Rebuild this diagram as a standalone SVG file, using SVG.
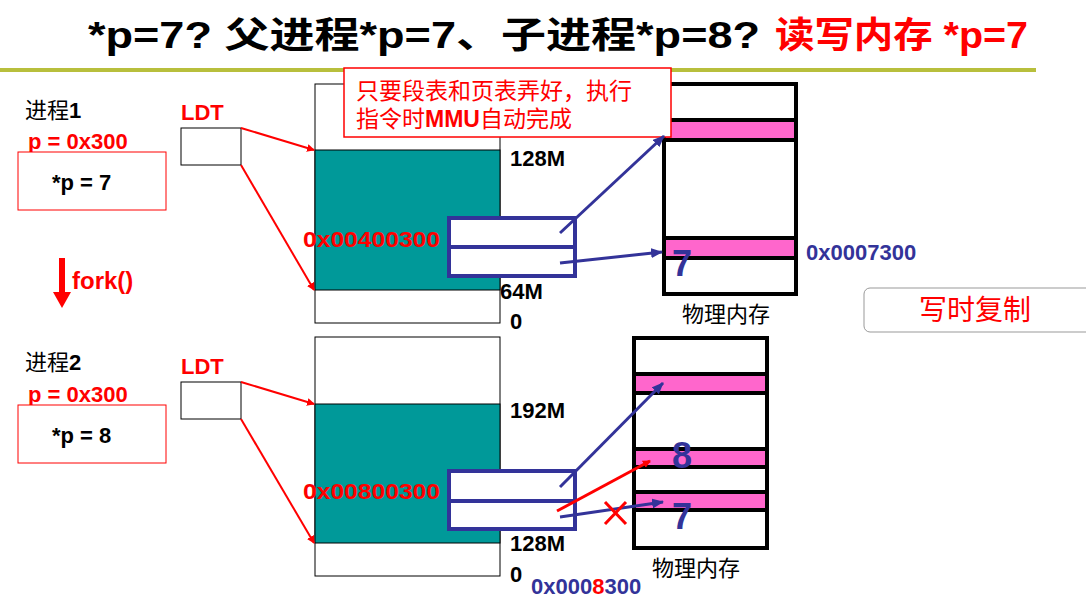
<svg xmlns="http://www.w3.org/2000/svg" width="1086" height="597" viewBox="0 0 1086 597">
<style>
text{font-family:"Liberation Sans","Noto Sans CJK SC",sans-serif}
.b{font-weight:bold}
.r{fill:#ff0000}
.n{fill:#333399}
.vm{fill:#fff;stroke:#000;stroke-width:1}
.teal{fill:#009999;stroke:#000;stroke-width:1}
.pt{fill:#fff;stroke:#333399;stroke-width:4}
.pm{fill:#fff;stroke:#000;stroke-width:4}
.pk{fill:#ff66cc;stroke:#000;stroke-width:4}
.ra{stroke:#ff0000;stroke-width:2;fill:none;marker-end:url(#ra)}
.na{stroke:#333399;stroke-width:3;fill:none;marker-end:url(#na)}
</style>
<defs>
<marker id="ra" markerWidth="8" markerHeight="8" refX="7" refY="4" orient="auto" markerUnits="userSpaceOnUse"><path d="M0,0L8,4L0,8z" fill="#ff0000"/></marker>
<marker id="na" markerWidth="12" markerHeight="10" refX="11" refY="5" orient="auto" markerUnits="userSpaceOnUse"><path d="M0,0L12,5L0,10z" fill="#333399"/></marker>
</defs>
<rect width="1086" height="597" fill="#fff"/>
<g id="title">
<text x="88" y="48" font-size="36" class="b" textLength="672" lengthAdjust="spacingAndGlyphs">*p=7? 父进程*p=7、子进程*p=8?</text>
<text x="775" y="48" font-size="36" class="b r" textLength="253" lengthAdjust="spacingAndGlyphs">读写内存 *p=7</text>
<rect x="0" y="68" width="1036" height="4" fill="#b8bf3c"/>
</g>
<g id="proc1">
<text x="25" y="118" font-size="22">进程<tspan class="b">1</tspan></text>
<text x="28" y="149" font-size="22" class="b r">p = 0x300</text>
<rect x="18" y="152" width="148" height="58" fill="#fff" stroke="#ff0000"/>
<text x="52" y="190" font-size="22" class="b">*p = 7</text>
<text x="181" y="120" font-size="22" class="b r">LDT</text>
<rect x="181" y="128" width="60" height="37" fill="#fff" stroke="#000"/>
</g>
<g id="fork">
<rect x="59" y="258" width="6" height="36" fill="#ff0000"/>
<path d="M53,292L71,292L62,308z" fill="#ff0000"/>
<text x="72" y="289" font-size="24" class="b r">fork()</text>
</g>
<g id="vm1">
<rect x="315" y="84" width="185" height="239" class="vm"/>
<rect x="315" y="150" width="185" height="140" class="teal"/>
<text x="303" y="247" font-size="22" class="b r" textLength="137" lengthAdjust="spacingAndGlyphs">0x00400300</text>
<text x="510" y="166" font-size="22" class="b">128M</text>
<text x="500" y="299" font-size="22" class="b">64M</text>
<text x="510" y="329" font-size="22" class="b">0</text>
</g>
<g id="pt1">
<rect x="449" y="218" width="126" height="58" class="pt"/>
<line x1="449" y1="247" x2="575" y2="247" stroke="#333399" stroke-width="4"/>
</g>
<g id="pm1">
<rect x="664" y="84" width="132" height="210" class="pm"/>
<rect x="664" y="120" width="132" height="20" class="pk"/>
<rect x="664" y="238" width="132" height="20" class="pk"/>
<text x="672" y="276" font-size="36" class="b n">7</text>
<text x="806" y="260" font-size="22" class="b n">0x0007300</text>
<text x="682" y="322" font-size="22">物理内存</text>
</g>
<g id="note">
<rect x="344" y="68" width="327" height="69" fill="#fff" stroke="#ff0000" stroke-width="1.5"/>
<text x="356" y="99" font-size="23" class="r">只要段表和页表弄好，执行</text>
<text x="356" y="127" font-size="23" class="r">指令时<tspan class="b">MMU</tspan>自动完成</text>
</g>
<g id="cow">
<rect x="864" y="288" width="230" height="44" rx="6" fill="#fff" stroke="#999"/>
<text x="975" y="320" font-size="28" class="r" text-anchor="middle">写时复制</text>
</g>
<g id="proc2">
<text x="25" y="370" font-size="22">进程<tspan class="b">2</tspan></text>
<text x="28" y="402" font-size="22" class="b r">p = 0x300</text>
<rect x="18" y="405" width="148" height="58" fill="#fff" stroke="#ff0000"/>
<text x="52" y="443" font-size="22" class="b">*p = 8</text>
<text x="181" y="374" font-size="22" class="b r">LDT</text>
<rect x="181" y="382" width="60" height="37" fill="#fff" stroke="#000"/>
</g>
<g id="vm2">
<rect x="315" y="337" width="185" height="239" class="vm"/>
<rect x="315" y="404" width="185" height="139" class="teal"/>
<text x="303" y="499" font-size="22" class="b r" textLength="137" lengthAdjust="spacingAndGlyphs">0x00800300</text>
<text x="510" y="418" font-size="22" class="b">192M</text>
<text x="510" y="551" font-size="22" class="b">128M</text>
<text x="510" y="582" font-size="22" class="b">0</text>
<text x="531" y="594" font-size="22" class="b n">0x000<tspan class="r">8</tspan>300</text>
</g>
<g id="pt2">
<rect x="449" y="471" width="126" height="58" class="pt"/>
<line x1="449" y1="501" x2="575" y2="501" stroke="#333399" stroke-width="4"/>
</g>
<g id="pm2">
<rect x="634" y="338" width="133" height="210" class="pm"/>
<rect x="634" y="374" width="133" height="19" class="pk"/>
<rect x="634" y="449" width="133" height="18" class="pk"/>
<rect x="634" y="492" width="133" height="18" class="pk"/>
<text x="672" y="468" font-size="36" class="b n">8</text>
<text x="672" y="529" font-size="36" class="b n">7</text>
<text x="652" y="576" font-size="22">物理内存</text>
</g>
<g id="connectors">
<line x1="241" y1="128" x2="314" y2="150" class="ra"/>
<line x1="241" y1="165" x2="314" y2="290" class="ra"/>
<line x1="241" y1="382" x2="314" y2="404" class="ra"/>
<line x1="241" y1="419" x2="314" y2="543" class="ra"/>
<line x1="560" y1="233" x2="664" y2="136" class="na"/>
<line x1="560" y1="263" x2="662" y2="252" class="na"/>
<line x1="560" y1="487" x2="663" y2="383" class="na"/>
<line x1="560" y1="517" x2="663" y2="502" class="na"/>
<line x1="557" y1="511" x2="650" y2="461" stroke="#ff0000" stroke-width="3" marker-end="url(#ra)"/>
<path d="M605,502L626,524M626,502L605,524" stroke="#ff0000" stroke-width="3"/>
</g>
</svg>
